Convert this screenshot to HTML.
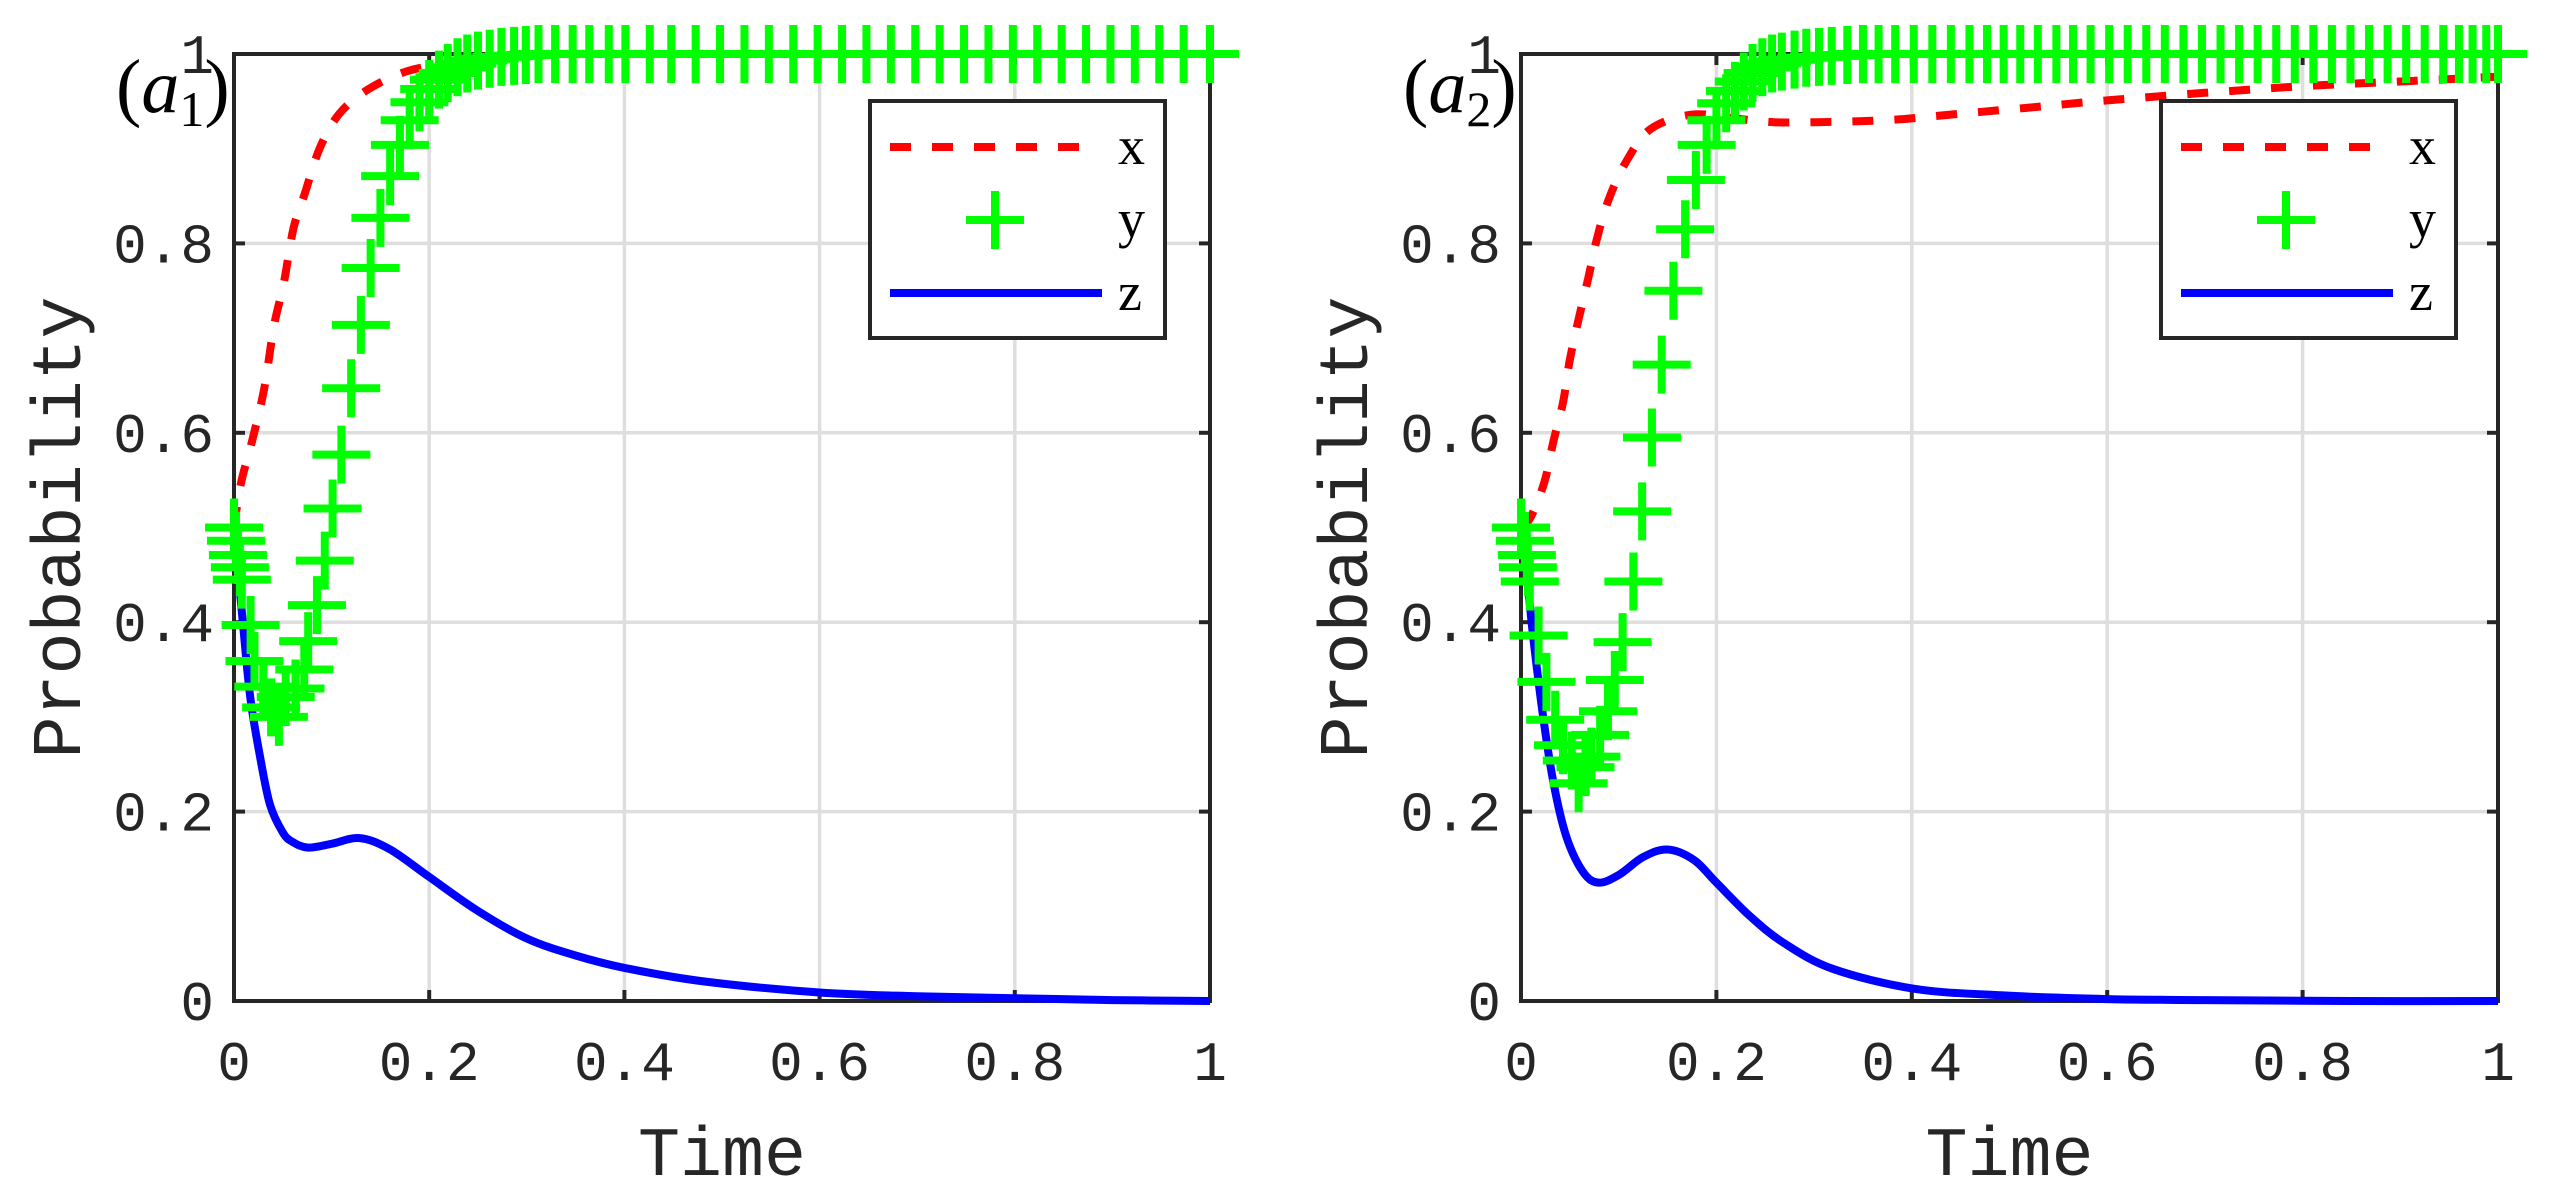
<!DOCTYPE html>
<html><head><meta charset="utf-8"><style>
html,body{margin:0;padding:0;background:#fff;}
svg{display:block;}
.tk{font-family:"Liberation Mono",monospace;font-size:56px;fill:#262626;}
.al{font-family:"Liberation Mono",monospace;font-size:70px;fill:#262626;}
.lg{font-family:"Liberation Serif",serif;font-size:54px;fill:#000;}
.ti{font-family:"Liberation Serif",serif;fill:#000;}
</style></head><body>
<svg id="chart" width="2560" height="1197" viewBox="0 0 2560 1197" xmlns="http://www.w3.org/2000/svg">
<rect width="2560" height="1197" fill="#fff"/>
</svg>
<script>
const xTicks=[0,0.2,0.4,0.6,0.8,1];
const yTicks=[0,0.2,0.4,0.6,0.8,1];
const xTickLabels=["0","0.2","0.4","0.6","0.8","1"];
const yTickLabels=["0","0.2","0.4","0.6","0.8","1"];
// Panel a1
const a1XT=[0,0.007,0.019,0.031,0.041,0.051,0.061,0.073,0.088,0.108,0.138,0.178,0.22,0.26,0.3,0.35,0.4,0.5,0.6,0.7,0.8,0.9,1];
const a1XV=[0.5,0.546,0.593,0.647,0.713,0.758,0.816,0.854,0.901,0.937,0.963,0.982,0.99,0.995,0.998,1,1,1,1,1,1,1,1];
const a1YT=[0,0.002,0.004,0.006,0.008,0.017,0.021,0.03,0.038,0.046,0.053,0.063,0.072,0.076,0.085,0.093,0.101,0.11,0.12,0.13,0.14,0.15,0.16,0.17,0.18,0.19,0.2,0.21,0.219,0.229,0.239,0.25,0.262,0.274,0.287,0.299,0.312,0.329,0.347,0.364,0.384,0.401,0.426,0.448,0.473,0.498,0.523,0.548,0.573,0.598,0.623,0.648,0.673,0.698,0.723,0.748,0.773,0.798,0.823,0.848,0.873,0.898,0.923,0.948,0.973,1];
const a1YV=[0.5,0.486,0.471,0.458,0.445,0.397,0.359,0.332,0.31,0.3,0.321,0.33,0.35,0.38,0.418,0.465,0.52,0.577,0.647,0.714,0.774,0.827,0.871,0.904,0.93,0.949,0.963,0.973,0.98,0.986,0.99,0.993,0.995,0.997,0.998,0.999,1,1,1,1,1,1,1,1,1,1,1,1,1,1,1,1,1,1,1,1,1,1,1,1,1,1,1,1,1,1];
const a1ZT=[0,0.01,0.017,0.027,0.037,0.05,0.06,0.076,0.1,0.129,0.16,0.2,0.25,0.3,0.35,0.4,0.479,0.6,0.7,0.8,0.9,1];
const a1ZV=[0.5,0.389,0.318,0.256,0.207,0.178,0.168,0.162,0.166,0.172,0.16,0.131,0.095,0.066,0.048,0.035,0.021,0.009,0.005,0.003,0.001,0];
// Panel a2
const a2XT=[0,0.01,0.024,0.033,0.043,0.05,0.059,0.069,0.078,0.09,0.108,0.133,0.175,0.218,0.259,0.302,0.345,0.388,0.429,0.472,0.516,0.557,0.6,0.7,0.8,0.9,1];
const a2XV=[0.5,0.511,0.548,0.59,0.632,0.677,0.72,0.764,0.806,0.847,0.887,0.921,0.936,0.932,0.928,0.928,0.929,0.931,0.935,0.939,0.943,0.947,0.951,0.959,0.966,0.971,0.976];
const a2YT=[0,0.004,0.006,0.007,0.009,0.018,0.026,0.035,0.043,0.052,0.059,0.066,0.072,0.081,0.089,0.096,0.104,0.115,0.124,0.134,0.144,0.156,0.168,0.179,0.19,0.2,0.21,0.219,0.228,0.237,0.247,0.257,0.267,0.28,0.292,0.305,0.318,0.334,0.35,0.366,0.383,0.402,0.421,0.44,0.459,0.477,0.494,0.511,0.529,0.548,0.565,0.583,0.602,0.621,0.64,0.659,0.678,0.697,0.716,0.735,0.754,0.773,0.792,0.811,0.83,0.849,0.868,0.887,0.906,0.925,0.944,0.96,0.974,0.988,1];
const a2YV=[0.5,0.486,0.471,0.458,0.443,0.386,0.337,0.297,0.27,0.254,0.23,0.247,0.258,0.281,0.306,0.339,0.379,0.443,0.517,0.595,0.672,0.75,0.815,0.867,0.904,0.93,0.948,0.961,0.971,0.98,0.986,0.99,0.992,0.994,0.996,0.997,0.998,0.999,1,1,1,1,1,1,1,1,1,1,1,1,1,1,1,1,1,1,1,1,1,1,1,1,1,1,1,1,1,1,1,1,1,1,1,1,1];
const a2ZT=[0,0.005,0.012,0.022,0.033,0.046,0.063,0.079,0.1,0.125,0.15,0.177,0.2,0.234,0.268,0.319,0.402,0.491,0.6,0.7,0.85,1];
const a2ZV=[0.5,0.46,0.389,0.305,0.232,0.175,0.137,0.125,0.133,0.152,0.16,0.149,0.125,0.09,0.062,0.034,0.013,0.006,0.002,0.001,0,0];

const NS="http://www.w3.org/2000/svg";
const svg=document.getElementById('chart');
function mk(tag,attrs,parent){const e=document.createElementNS(NS,tag);for(const k in attrs)e.setAttribute(k,attrs[k]);(parent||svg).appendChild(e);return e;}
function smooth(P){
  let d='M'+P[0][0].toFixed(1)+' '+P[0][1].toFixed(1);
  for(let i=0;i<P.length-1;i++){
    const p0=P[i-1]||P[i],p1=P[i],p2=P[i+1],p3=P[i+2]||p2;
    const c1=[p1[0]+(p2[0]-p0[0])/6,p1[1]+(p2[1]-p0[1])/6];
    const c2=[p2[0]-(p3[0]-p1[0])/6,p2[1]-(p3[1]-p1[1])/6];
    d+=`C${c1[0].toFixed(1)} ${c1[1].toFixed(1)} ${c2[0].toFixed(1)} ${c2[1].toFixed(1)} ${p2[0].toFixed(1)} ${p2[1].toFixed(1)}`;
  }
  return d;
}

function panel(id,x0,x1,y0,y1,XT,XV,YT,YV,ZT,ZV,sub,legX){
  const sx=v=>x0+v*(x1-x0), sy=v=>y0-v*(y0-y1);
  const g=mk('g',{});
  
  
  xTicks.forEach(t=>{if(t>0&&t<1){const l=mk('line',{x1:sx(t),x2:sx(t),y1:y0,y2:y1,stroke:'#dedede','stroke-width':3.5},g);
    }});
  yTicks.forEach(t=>{if(t>0&&t<1){const l=mk('line',{x1:x0,x2:x1,y1:sy(t),y2:sy(t),stroke:'#dedede','stroke-width':3.5},g);
    }});
  const box=mk('rect',{x:x0,y:y1,width:x1-x0,height:y0-y1,fill:'none',stroke:'#262626','stroke-width':4},g);
  
  xTicks.forEach((t,i)=>{
    mk('line',{x1:sx(t),x2:sx(t),y1:y0,y2:y0-11,stroke:'#262626','stroke-width':4},g);
    mk('line',{x1:sx(t),x2:sx(t),y1:y1,y2:y1+11,stroke:'#262626','stroke-width':4},g);
    const tx=mk('text',{x:sx(t),y:y0+79,'text-anchor':'middle',class:'tk'},g);tx.textContent=xTickLabels[i];
    
  });
  yTicks.forEach((t,i)=>{
    mk('line',{x1:x0,x2:x0+11,y1:sy(t),y2:sy(t),stroke:'#262626','stroke-width':4},g);
    mk('line',{x1:x1,x2:x1-11,y1:sy(t),y2:sy(t),stroke:'#262626','stroke-width':4},g);
    const tx=mk('text',{x:x0-20,y:sy(t)+19,'text-anchor':'end',class:'tk'},g);tx.textContent=yTickLabels[i];
    
  });
  const xl=mk('text',{x:(x0+x1)/2,y:1175,'text-anchor':'middle',class:'al'},g);xl.textContent='Time';
  
  const yl=mk('text',{x:0,y:0,'text-anchor':'middle',class:'al',transform:`translate(${x0-154},${(y0+y1)/2}) rotate(-90)`},g);yl.textContent='Probability';
  
  const ti=mk('text',{x:x0-118,y:y1+58,class:'ti','font-size':76},g);
  
  ti.innerHTML='(<tspan font-style="italic">a</tspan><tspan font-size="50" dy="14">'+sub+'</tspan><tspan dy="-14">)</tspan>';
  const px=mk('path',{d:smooth(XT.map((t,i)=>[sx(t),sy(XV[i])])),fill:'none',stroke:'#ff0000','stroke-width':8,'stroke-dasharray':'21 21'},g);
  
  const pz=mk('path',{d:smooth(ZT.map((t,i)=>[sx(t),sy(ZV[i])])),fill:'none',stroke:'#0000ff','stroke-width':8,'stroke-linejoin':'round'},g);
  
  const yg=mk('g',{stroke:'#00ff00','stroke-width':8},g);
  
  YT.forEach((t,i)=>{const cx=sx(t),cy=sy(YV[i]);
    const m=mk('path',{d:`M${cx-29} ${cy}H${cx+29}M${cx} ${cy-29}V${cy+29}`},yg);
    });
  const lg=mk('g',{},g);
  
  mk('rect',{x:legX,y:101,width:295,height:237,fill:'#fff',stroke:'#262626','stroke-width':4},lg);
  const rows=[147,220,293];
  mk('line',{x1:legX+20,x2:legX+212,y1:rows[0],y2:rows[0],stroke:'#ff0000','stroke-width':8,'stroke-dasharray':'21 21'},lg);
  mk('path',{d:`M${legX+96} ${rows[1]}H${legX+154}M${legX+125} ${rows[1]-29}V${rows[1]+29}`,stroke:'#00ff00','stroke-width':8},lg);
  mk('line',{x1:legX+20,x2:legX+232,y1:rows[2],y2:rows[2],stroke:'#0000ff','stroke-width':8},lg);
  ['x','y','z'].forEach((s,i)=>{const t=mk('text',{x:legX+248,y:rows[i]+17,class:'lg'},lg);t.textContent=s;
    });
}
panel('a1',234,1210,1001,54,a1XT,a1XV,a1YT,a1YV,a1ZT,a1ZV,'1',870);
panel('a2',1521,2498,1001,54,a2XT,a2XV,a2YT,a2YV,a2ZT,a2ZV,'2',2161);
</script>
</body></html>
